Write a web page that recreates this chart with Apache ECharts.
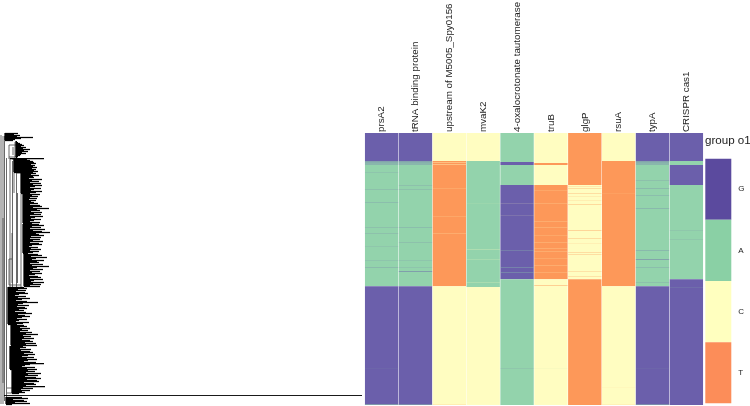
<!DOCTYPE html>
<html><head><meta charset="utf-8">
<style>html,body{margin:0;padding:0;background:#fff}#c{width:750px;height:406px}</style>
<script src="https://cdn.jsdelivr.net/npm/echarts@6/dist/echarts.min.js"></script>
</head><body><div id="c"></div>
<script>
const genes = ['prsA2','tRNA binding protein','upstream of M5005_Spy0156','mvaK2','4-oxalocrotonate tautomerase','truB','glgP','rsuA','typA','CRISPR cas1'];
const bases = ['G','A','C','T'];
const rowCount = 272;
// per gene: runs of [base, first row, end row]
const runs = [
 [['G',0,28],['A',28,153.3],['G',153.3,272]],
 [['G',0,28],['A',28,153.3],['G',153.3,272]],
 [['C',0,28],['T',28,153.3],['C',153.3,272]],
 [['C',0,28],['A',28,154],['C',154,272]],
 [['A',0,29],['G',29,32],['A',32,52],['G',52,146.3],['A',146.3,272]],
 [['C',0,30],['T',30,32],['C',32,52],['T',52,146.3],['C',146.3,272]],
 [['T',0,52],['C',52,146.3],['T',146.3,272]],
 [['C',0,28],['T',28,153.3],['C',153.3,272]],
 [['G',0,28],['A',28,153.3],['G',153.3,272]],
 [['G',0,28],['A',28,32],['G',32,52],['A',52,146.3],['G',146.3,272]]
];
// thin mixed rows: [gene index, row, base, thickness]
const stripes = [
 [0,28,'G',.4],[0,29,'G',.3],[0,30,'G',.25],[0,31,'G',.25],[0,39,'G',.12],[0,56,'G',.15],[0,69,'G',.18],[0,94,'G',.15],[0,100,'G',.15],[0,113,'G',.1],[0,127,'G',.12],[0,134,'G',.2],[0,271,'A',.5],[0,235,'A',.06],
 [1,28,'G',.4],[1,29,'G',.3],[1,30,'G',.25],[1,31,'G',.25],[1,52,'G',.15],[1,56,'G',.15],[1,94,'G',.18],[1,109,'G',.15],[1,127,'G',.12],[1,134,'G',.12],[1,138,'G',.45],[1,271,'A',.4],
 [2,29,'C',.4],[2,31,'C',.4],[2,55,'C',.15],[2,83,'C',.15],[2,100,'C',.2],[2,271,'T',.15],
 [3,116,'C',.25],[3,126,'C',.18],[3,149,'C',.22],[3,70,'C',.08],
 [4,70,'C',.15],[4,82,'C',.12],[4,117,'A',.25],[4,134,'A',.3],[4,139,'A',.3],[4,235,'G',.1],
 [5,57,'C',.15],[5,70,'C',.18],[5,88,'C',.2],[5,94,'C',.2],[5,102,'C',.15],[5,109,'C',.2],[5,115,'C',.2],[5,118,'C',.2],[5,125,'C',.15],[5,132,'C',.2],[5,139,'C',.18],[5,152,'T',.45],[5,235,'A',.06],
 [6,53,'T',.2],[6,55,'T',.3],[6,60,'T',.3],[6,63,'T',.15],[6,67,'T',.15],[6,71,'T',.35],[6,97,'T',.4],[6,105,'T',.3],[6,110,'T',.12],[6,119,'T',.3],[6,121,'T',.3],[6,138,'T',.25],[6,143,'T',.25],
 [7,60,'C',.08],[7,254,'T',.05],[7,271,'T',.1],
 [8,28,'G',.4],[8,29,'G',.3],[8,30,'G',.25],[8,31,'G',.25],[8,47,'G',.15],[8,55,'G',.2],[8,62,'G',.18],[8,75,'G',.22],[8,117,'G',.22],[8,126,'G',.4],[8,134,'G',.18],[8,149,'G',.15],[8,235,'A',.06],[8,271,'A',.4],
 [9,28,'A',.5],[9,97,'G',.1],[9,106,'G',.1],[9,154,'A',.12]
];
// tree: clades of [spine branch length, first row, tip branch lengths per row]
const clades = [
 [5,0,[18,14,20,17,33,21,15,13]],
 [16,8,[17,18,20,22,24,21,26,23,30,24,28,22,26,21,20,18,17]],
 [10,25,[44]],
 [14,26,[27,30,33,34,36,31,35,33,37,32,36,34,38,33]],
 [21,40,[36,31,39,33,34,29,42,32,39,30,41,33,42,35,30,41,34,31,42,36,30]],
 [23,61,[40,32,38,30,37,29,36,31,34,38,30,40,42,33,49,37,40,31,42,34,41,30,43,35,31,41,34,30,40,32]],
 [23,91,[39,44,32,41,30,45,33,42,50,36,39,44,31,41,30,40,33,43,30,39,42,32,29,38,31,41,30,39,33,28]],
 [24,121,[38,42,31,47,36,32,44,37,39,30,43,32,49,37,33,43,30,40,32,42,35,29,38,41,30,43,34,31,44,33,41,30,40]],
 [8,154,[24,27,18,26,16,25,28,19,15,26,18,30,22,16,27,38,23,18,29,17,25,27,19,24,15,26,32,18,25,30,22,17,27,19,16,29,23,17]],
 [11,192,[24,27,20,30,22,28,20,32,26,38,23,31,24,34,22,30,33,25,36,26,37]],
 [10,213,[23,26,20,31,21,30,33,24,35,28,22,34,27,37,28,24,36,44,30,25,22,35,27,37]],
 [12,237,[28,35,26,41,28,38,25,36,41,27,37,39,24,34,36,26,45,23,33,21,30,22,25,19]],
 [6,264,[22,28,13,24,27,15,30,12]]
];
const outlierTip = [4,262,362];
// internal branches: [length from, row from, length to, row to]
const innerBranches = [
 [1,2,1,271],[3,3,3,271],[4.5,3,4.5,268],[6.5,25,6.5,270],
 [3,85,3,250],[9,12,9,26],[9,12,16,12],[9,24,16,24],[15,9,15,25],[13,14,13,22],[12.5,28,12.5,155],
 [14,26,14,60],[16.5,40,16.5,156],[17.5,60,17.5,150],[21,60,21,154],
 [12,100,12,150],[9,126,12,126],[9,126,9,152],[9,152,21,152],[17,40,21,40],[12,26,16,26],
 [10,25,10,154],[15,222,15,236],[16,240,16,254],
 [14,197,18,197],[14,197,14,212],[13,222,20,222],[13,222,13,232],[13,232,18,232],[16,240,22,240],[16,254,22,254],[7,255,16,255],[7,260,14,260]
];
const heatColors = {G:'#6b5fab',A:'#93d3ac',C:'#fffdc1',T:'#fd9859'};
const legendColors = {G:'#5b4a9e',A:'#8ad0a5',C:'#ffffbf',T:'#fc8d59'};

const treeSegments = [];
clades.forEach(([spine,first,tips])=>{
  treeSegments.push([spine,first,spine,first+tips.length-1]);
  tips.forEach((t,i)=>treeSegments.push([spine,first+i+.5,t,first+i+.5]));
});
const outlierSegment = [[outlierTip[0],outlierTip[1]+.5,outlierTip[2],outlierTip[1]+.5]];

const cellData = [];
runs.forEach((list,g)=>list.forEach(([b,s,e])=>cellData.push([g,s,e,bases.indexOf(b),1])));
stripes.forEach(([g,r,b,t])=>cellData.push([g,r,r+1,bases.indexOf(b),t]));

function cell(palette){
  return function(p,api){
    const a=api.coord([api.value(0),api.value(1)]), b=api.coord([api.value(0),api.value(2)]);
    const w=api.size([1,0])[0];
    return {type:'rect',shape:{x:a[0]-w/2+.25,y:a[1],width:w-.5,height:b[1]-a[1]},
      style:{fill:palette[bases[api.value(3)]],opacity:api.value(4)}};
  };
}
function seg(width,color){
  return function(p,api){
    const a=api.coord([api.value(0),api.value(1)]), b=api.coord([api.value(2),api.value(3)]);
    return {type:'line',shape:{x1:a[0],y1:a[1],x2:b[0],y2:b[1]},style:{stroke:color,lineWidth:width}};
  };
}
const font='"Liberation Sans",Arial,sans-serif';
const chart=echarts.init(document.getElementById('c'),null,{renderer:'canvas'});
chart.setOption({
  animation:false,backgroundColor:'#fff',
  title:{text:'group o1',left:705,top:135,padding:0,textStyle:{fontFamily:font,fontSize:11.6,fontWeight:'normal',color:'#222'}},
  grid:[
    {left:0,top:133,width:362,height:272,outerBoundsMode:'none'},
    {left:364.7,top:133,width:338.6,height:272,outerBoundsMode:'none'},
    {left:705.3,top:158.7,width:26,height:244.6,outerBoundsMode:'none'}
  ],
  xAxis:[
    {gridIndex:0,type:'value',min:0,max:362,show:false},
    {gridIndex:1,type:'category',position:'top',data:genes,axisLine:{show:false},axisTick:{show:false},
     axisLabel:{rotate:90,interval:0,margin:1,fontSize:9.8,fontFamily:font,color:'#222',padding:[3,0,0,0]}},
    {gridIndex:2,type:'category',data:[''],show:false}
  ],
  yAxis:[
    {gridIndex:0,type:'value',min:0,max:rowCount,inverse:true,show:false},
    {gridIndex:1,type:'value',min:0,max:rowCount,inverse:true,show:false},
    {gridIndex:2,type:'category',position:'right',inverse:true,data:bases,axisLine:{show:false},axisTick:{show:false},
     axisLabel:{margin:7,fontSize:8,fontFamily:font,color:'#222',padding:[0,0,5,0]}}
  ],
  series:[
    {type:'custom',xAxisIndex:0,yAxisIndex:0,data:innerBranches,renderItem:seg(.8,'#444'),encode:{x:[0,2],y:[1,3]},silent:true},
    {type:'custom',xAxisIndex:0,yAxisIndex:0,data:treeSegments,renderItem:seg(1.25,'#000'),encode:{x:[0,2],y:[1,3]},silent:true},
    {type:'custom',xAxisIndex:0,yAxisIndex:0,data:outlierSegment,renderItem:seg(.9,'#000'),encode:{x:[0,2],y:[1,3]},silent:true},
    {type:'custom',xAxisIndex:1,yAxisIndex:1,data:cellData,renderItem:cell(heatColors),encode:{x:0,y:[1,2]},silent:true},
    {type:'custom',xAxisIndex:2,yAxisIndex:2,data:bases.map((b,i)=>[0,i]),silent:true,encode:{x:0,y:1},
     renderItem:function(p,api){
       const c=api.coord([0,api.value(1)]), s=api.size([1,1]);
       return {type:'rect',shape:{x:c[0]-s[0]/2,y:c[1]-s[1]/2,width:s[0],height:s[1]},style:{fill:legendColors[bases[api.value(1)]]}};
     }}
  ]
});
</script></body></html>
